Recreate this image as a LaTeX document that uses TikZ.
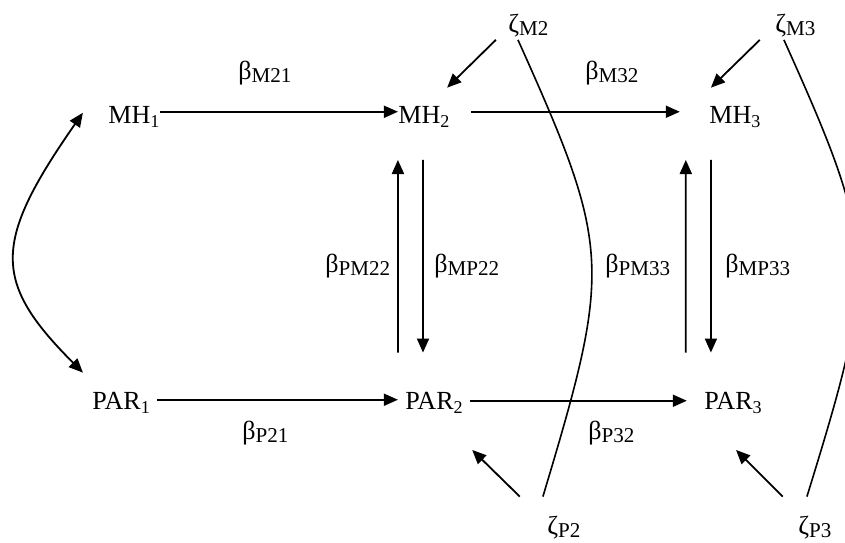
\documentclass[tikz,border=0pt]{standalone}
\usepackage{fontspec}
\setmainfont{Liberation Serif}
\usepackage{xcolor}
\usetikzlibrary{arrows.meta}
\definecolor{pmInk}{HTML}{000000}
\newcommand{\vsub}[1]{\raisebox{-2pt}{\fontsize{9}{10}\selectfont #1}}
\newcommand{\csub}[1]{\raisebox{-1.5pt}{\fontsize{10.5}{12}\selectfont #1}}
\tikzset{
  pm diagram/.style={text=pmInk, line join=miter},
  pm var/.style={font=\fontsize{13}{15}\selectfont, inner sep=0pt, anchor=base west},
  pm coef/.style={font=\fontsize{13}{15}\selectfont, inner sep=0pt, anchor=base west},
  pm arrow/.style={-{Triangle[length=7pt,width=6pt]}, draw=pmInk, line width=0.9pt},
  pm both/.style={pm arrow, {Triangle[length=7pt,width=6pt]}-{Triangle[length=7pt,width=6pt]}},
  pm link/.style={draw=pmInk, line width=0.8pt}
}

\begin{document}
\begin{tikzpicture}[pm diagram]
\useasboundingbox (0,0) rectangle (14.79,9.50);
\clip (0,0) rectangle (14.79,9.50);
% latent variables
\node[pm var] (mh1) at (1.89,7.333) {MH\vsub{1}};
\node[pm var] (mh2) at (6.965,7.333) {MH\vsub{2}};
\node[pm var] (mh3) at (12.408,7.333) {MH\vsub{3}};
\node[pm var] (par1) at (1.61,2.3275) {PAR\vsub{1}};
\node[pm var] (par2) at (7.0875,2.3275) {PAR\vsub{2}};
\node[pm var] (par3) at (12.32,2.3275) {PAR\vsub{3}};
% path coefficients
\node[pm coef] (bm21) at (4.165,8.1025) {β\csub{M21}};
\node[pm coef] (bm32) at (10.2375,8.1025) {β\csub{M32}};
\node[pm coef] (bpm22) at (5.6875,4.725) {β\csub{PM22}};
\node[pm coef] (bmp22) at (7.595,4.725) {β\csub{MP22}};
\node[pm coef] (bpm33) at (10.5875,4.725) {β\csub{PM33}};
\node[pm coef] (bmp33) at (12.6875,4.725) {β\csub{MP33}};
\node[pm coef] (bp21) at (4.235,1.8025) {β\csub{P21}};
\node[pm coef] (bp32) at (10.29,1.8025) {β\csub{P32}};
% disturbances
\node[pm coef] (zm2) at (8.89,8.925) {ζ\csub{M2}};
\node[pm coef] (zm3) at (13.5625,8.925) {ζ\csub{M3}};
\node[pm coef] (zp2) at (9.5725,0.14) {ζ\csub{P2}};
\node[pm coef] (zp3) at (13.965,0.14) {ζ\csub{P3}};
% horizontal paths
\draw[pm arrow] ([yshift=6pt]mh1.base east) -- ([yshift=6pt]mh2.base west);
\draw[pm arrow] ([xshift=10.5pt,yshift=6pt]mh2.base east) -- ([xshift=-14.5pt,yshift=6pt]mh3.base west);
\draw[pm arrow] ([xshift=3.5pt,yshift=5pt]par1.base east) -- ([xshift=-3.5pt,yshift=5pt]par2.base west);
\draw[pm arrow] ([xshift=3.5pt,yshift=4.5pt]par2.base east) -- ([xshift=-8.5pt,yshift=4.5pt]par3.base west);
% reciprocal paths
\draw[pm arrow] ([xshift=-3.5pt,yshift=28.5pt]par2.base west) -- ([yshift=-18pt]mh2.base west);
\draw[pm arrow] ([xshift=12.5pt,yshift=-18pt]mh2.base west) -- ([xshift=9pt,yshift=28.5pt]par2.base west);
\draw[pm arrow] ([xshift=-9pt,yshift=28.5pt]par3.base west) -- ([xshift=-11.5pt,yshift=-18pt]mh3.base west);
\draw[pm arrow] ([xshift=1pt,yshift=-18pt]mh3.base west) -- ([xshift=3.5pt,yshift=28.5pt]par3.base west);
% disturbance paths
\draw[pm arrow] ([xshift=-6pt,yshift=-3.5pt]zm2.base west) -- ([xshift=24.5pt,yshift=18pt]mh2.base west);
\draw[pm arrow] ([xshift=-7.5pt,yshift=-3.5pt]zm3.base west) -- ([xshift=1pt,yshift=18pt]mh3.base west);
\draw[pm arrow] ([xshift=-13.5pt,yshift=19pt]zp2.base west) -- ([xshift=33.5pt,yshift=-20pt]par2.base west);
\draw[pm arrow] ([xshift=-7.5pt,yshift=19pt]zp3.base west) -- ([xshift=16pt,yshift=-20pt]par3.base west);
% covariances
\draw[pm link] ([xshift=5pt,yshift=-3.5pt]zm2.base west) .. controls (10.71,5.145) and (10.71,4.83) .. ([xshift=-2pt,yshift=19pt]zp2.base west);
\draw[pm link] ([xshift=4.5pt,yshift=-3.5pt]zm3.base west) .. controls (15.365,5.145) and (15.365,4.83) .. ([xshift=4.5pt,yshift=19pt]zp3.base west);
\draw[pm both] ([xshift=-4.5pt,yshift=18.5pt]par1.base west) .. controls (-0.135,4.5675) and (-0.135,5.25) .. ([xshift=-12.5pt,yshift=5.5pt]mh1.base west);
\end{tikzpicture}
\end{document}
